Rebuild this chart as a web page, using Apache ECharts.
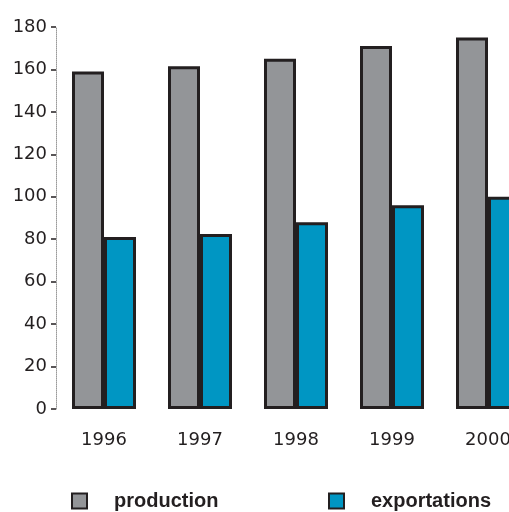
<!DOCTYPE html>
<html>
<head>
<meta charset="utf-8">
<script src="https://cdn.jsdelivr.net/npm/echarts@6/dist/echarts.min.js"></script>
<style>
  html, body { margin: 0; padding: 0; background: #fff; }
  #chart { width: 509px; height: 512px; }
</style>
</head>
<body>
<div id="chart"></div>
<script>
// values
var years = ['1996', '1997', '1998', '1999', '2000'];
var production = [159, 161.5, 165, 171, 175];
var exportations = [81, 82.5, 88, 96, 100];

var ink = '#231f20';

var chart = echarts.init(document.getElementById('chart'));

var legendText = { fontFamily: 'Liberation Sans', fontWeight: 'bold', fontSize: 20, color: ink, padding: [0, 0, 0, 22] };

chart.setOption({
  animation: false,
  grid: { left: 56, top: 27, width: 480, height: 382, containLabel: false, outerBoundsMode: 'none' },
  legend: [
    {
      left: 71, top: 491, padding: 0,
      itemWidth: 15, itemHeight: 15, icon: 'rect',
      data: ['production'],
      textStyle: legendText
    },
    {
      left: 328, top: 491, padding: 0,
      itemWidth: 15, itemHeight: 15, icon: 'rect',
      data: ['exportations'],
      textStyle: legendText
    }
  ],
  xAxis: {
    type: 'category',
    data: years,
    axisLine: { show: false },
    axisTick: { show: false },
    axisLabel: { margin: 22, fontFamily: 'DejaVu Sans', fontSize: 18, color: ink }
  },
  yAxis: {
    type: 'value',
    min: 0, max: 180, interval: 20,
    splitLine: { show: false },
    axisLine: { show: true, lineStyle: { color: '#999', type: 'dotted', width: 1 } },
    axisTick: { show: true, length: 5, lineStyle: { color: ink, width: 1.5 } },
    axisLabel: { margin: 9, fontFamily: 'DejaVu Sans', fontSize: 18, color: ink }
  },
  series: [
    {
      name: 'production',
      type: 'bar',
      data: production,
      barWidth: 32,
      barGap: '0%',
      itemStyle: { color: '#939598', borderColor: ink, borderWidth: 3 }
    },
    {
      name: 'exportations',
      type: 'bar',
      data: exportations,
      barWidth: 32,
      itemStyle: { color: '#0096c3', borderColor: ink, borderWidth: 3 }
    }
  ]
});
</script>
</body>
</html>
